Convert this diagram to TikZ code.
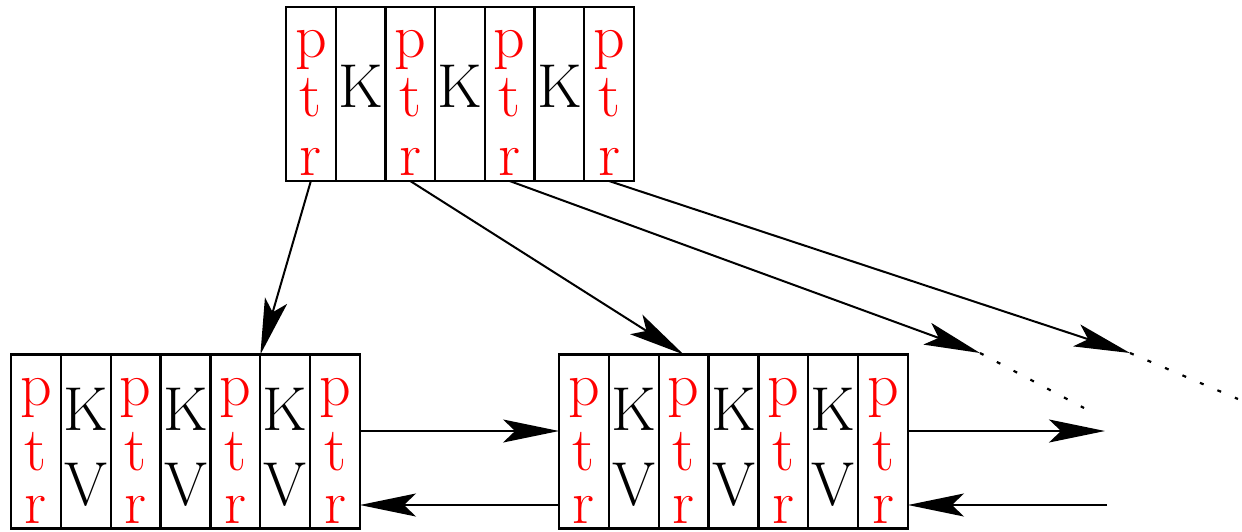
\documentclass[tikz,border=0pt]{standalone}
\usepackage{fontspec}
\usetikzlibrary{arrows.meta}
\newcommand\cellfont{\fontsize{62}{62}\selectfont}
\tikzset{
  cell/.style={draw, line width=2.2pt, minimum width=49.7pt, minimum height=174pt,
               inner sep=0pt, outer sep=0pt, fill=white},
  ptrch/.style={red, anchor=base, inner sep=0pt, font=\cellfont},
  keych/.style={black, anchor=base, inner sep=0pt, font=\cellfont},
  link/.style={line width=2pt, -{Stealth[length=56pt,width=23pt,inset=12pt]}},
  trail/.style={line width=2.2pt, dash pattern=on 4pt off 15pt},
}
\begin{document}
\begin{tikzpicture}[x=1pt,y=-1pt]
\useasboundingbox (0,0) rectangle (1242,531);

% index node (top) and two leaf nodes (bottom)
\foreach \i in {1,...,7} {
  \node[cell] (tc\i) at ({286+49.7*(\i-0.5)},94) {};
  \node[cell] (lc\i) at ({11+49.86*(\i-0.5)},441.5) {};
  \node[cell] (mc\i) at ({559+49.86*(\i-0.5)},441.5) {};
}

% pointer slots: "ptr" written vertically
\foreach \i in {1,3,5,7} {
  \node[ptrch] (tp\i) at (tc\i |- 0,57) {p};
  \node[ptrch] (tt\i) at (tc\i |- 0,116) {t};
  \node[ptrch] (tr\i) at (tc\i |- 0,175) {r};
  \node[ptrch] (lp\i) at (lc\i |- 0,405) {p};
  \node[ptrch] (lt\i) at (lc\i |- 0,470) {t};
  \node[ptrch] (lr\i) at (lc\i |- 0,523) {r};
  \node[ptrch] (mp\i) at (mc\i |- 0,405) {p};
  \node[ptrch] (mt\i) at (mc\i |- 0,470) {t};
  \node[ptrch] (mr\i) at (mc\i |- 0,523) {r};
}

% key slots (index) and key/value slots (leaves)
\foreach \i in {2,4,6} {
  \node[keych] (tk\i) at (tc\i |- 0,107) {K};
  \node[keych] (lk\i) at (lc\i |- 0,430) {K};
  \node[keych] (lv\i) at (lc\i |- 0,505) {V};
  \node[keych] (mk\i) at (mc\i |- 0,430) {K};
  \node[keych] (mv\i) at (mc\i |- 0,505) {V};
}

% loose ends of the links leaving the picture
\coordinate (e1) at (980,353);
\coordinate (e1t) at (1084,408);
\coordinate (e2) at (1130,353);
\coordinate (e2t) at (1238,399);
\coordinate (nx) at (1105,431);
\coordinate (pv) at (1107,505);

% child pointers
\draw[link] (tc1.south) -- (lc6.north west);
\draw[link] (tc3.south) -- (mc3.north);
\draw[link] (tc5.south) -- (e1);
\draw[link] (tc7.south) -- (e2);
\draw[trail] (e1) -- (e1t);
\draw[trail] (e2) -- (e2t);

% sibling links between leaves
\draw[link] ([yshift=10.5pt]lc7.east) -- ([yshift=10.5pt]mc1.west);
\draw[link] ([yshift=-63.5pt]mc1.west) -- ([yshift=-63.5pt]lc7.east);
\draw[link] ([yshift=10.5pt]mc7.east) -- (nx);
\draw[link] (pv) -- ([yshift=-63.5pt]mc7.east);
\end{tikzpicture}
\end{document}
